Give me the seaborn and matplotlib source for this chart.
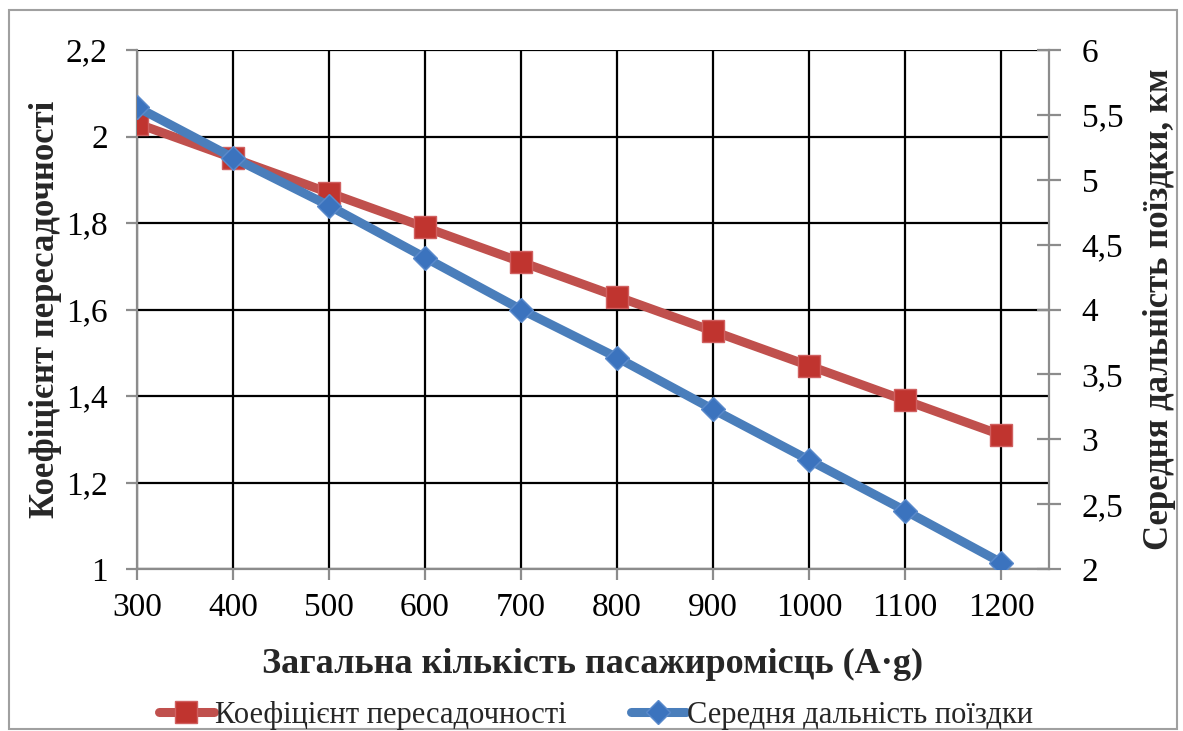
import matplotlib
matplotlib.use("Agg")
import matplotlib.pyplot as plt
import seaborn as sns
import pandas as pd
from matplotlib.patches import Rectangle
from matplotlib.lines import Line2D

capacity = [300, 400, 500, 600, 700, 800, 900, 1000, 1100, 1200]
transfer_coef = [2.03, 1.95, 1.87, 1.79, 1.71, 1.63, 1.55, 1.47, 1.39, 1.31]
trip_distance = [5.56, 5.17, 4.80, 4.40, 4.00, 3.63, 3.23, 2.84, 2.45, 2.05]

x_ticks = [300, 400, 500, 600, 700, 800, 900, 1000, 1100, 1200]
left_ticks = [1.0, 1.2, 1.4, 1.6, 1.8, 2.0, 2.2]
left_labels = ["1", "1,2", "1,4", "1,6", "1,8", "2", "2,2"]
right_ticks = [2.0, 2.5, 3.0, 3.5, 4.0, 4.5, 5.0, 5.5, 6.0]
right_labels = ["2", "2,5", "3", "3,5", "4", "4,5", "5", "5,5", "6"]

label_x = "Загальна кількість пасажиромісць (A·g)"
label_left = "Коефіцієнт пересадочності"
label_right = "Середня дальність поїздки, км"
legend_names = ["Коефіцієнт пересадочності", "Середня дальність поїздки"]

sns.set_theme(style="white")
plt.rcParams['font.family'] = ['Liberation Serif', 'DejaVu Serif']

df = pd.DataFrame({"x": capacity, "k": transfer_coef, "d": trip_distance})

fig = plt.figure(figsize=(11.83, 7.31), dpi=100)
ax = fig.add_axes([137/1183, 1-569/731, (1049-137)/1183, (569-50)/731])
ax2 = ax.twinx()

red_line = "#C0504D"
red_mark = "#C0342F"
blue_line = "#4A7EBB"
blue_mark = "#3B73BE"

sns.lineplot(data=df, x="x", y="k", ax=ax, color=red_line, lw=6.5,
             marker="s", markersize=16, markerfacecolor=red_mark,
             markeredgecolor="#D06060", markeredgewidth=1, zorder=4)
sns.lineplot(data=df, x="x", y="d", ax=ax2, color=blue_line, lw=6.5,
             marker="D", markersize=12.5, markerfacecolor=blue_mark,
             markeredgecolor="#5A8ACB", markeredgewidth=1, zorder=5)

ax.set_xlim(300, 1250)
ax.set_ylim(1.0, 2.2)
ax2.set_ylim(2.0, 6.0)

TS = 24
ax.set_xticks(x_ticks)
ax.set_xticklabels([str(v) for v in x_ticks], fontsize=TS)
ax.set_yticks(left_ticks)
ax.set_yticklabels(left_labels, fontsize=TS)
ax2.set_yticks(right_ticks)
ax2.set_yticklabels(right_labels, fontsize=TS)

ax.grid(True, color="black", lw=1.6)
ax.set_axisbelow(True)

for a in (ax, ax2):
    a.spines["top"].set_visible(False)
    for s in ("left", "bottom", "right"):
        a.spines[s].set_color("#8c8c8c")
        a.spines[s].set_linewidth(1.6)
ax2.spines["left"].set_visible(False)
ax2.spines["bottom"].set_visible(False)
ax.spines["right"].set_visible(False)

ax.tick_params(axis="x", direction="out", length=8, width=1.6, color="#8c8c8c", pad=9, labelcolor="black", bottom=True)
ax.tick_params(axis="y", direction="out", length=8, width=1.6, color="#8c8c8c", pad=13, labelcolor="black", left=True)
ax2.tick_params(axis="y", direction="inout", length=17, width=1.6, color="#8c8c8c", pad=15, labelcolor="black", right=True)

ax.set_xlabel(label_x, fontsize=26, fontweight="bold", labelpad=18)
ax.set_ylabel(label_left, fontsize=25, fontweight="bold", labelpad=3)
ax2.set_ylabel(label_right, fontsize=25, fontweight="bold", labelpad=14)

handles = [
    Line2D([], [], color=red_line, lw=6.5, marker="s", markersize=16,
           markerfacecolor=red_mark, markeredgecolor="#D06060"),
    Line2D([], [], color=blue_line, lw=6.5, marker="D", markersize=12.5,
           markerfacecolor=blue_mark, markeredgecolor="#5A8ACB"),
]
fig.legend(handles, legend_names, loc="center", bbox_to_anchor=(596/1183, 1-715/731),
           ncol=2, frameon=False, fontsize=22, handlelength=1.8, handletextpad=0.05,
           columnspacing=2.1)

fig.add_artist(Rectangle((9/1183, 1-729/731), (1177-9)/1183, (729-10)/731,
                         transform=fig.transFigure, fill=False, edgecolor="#a0a0a0", lw=1.5))

fig.savefig("out.png", dpi=100)
